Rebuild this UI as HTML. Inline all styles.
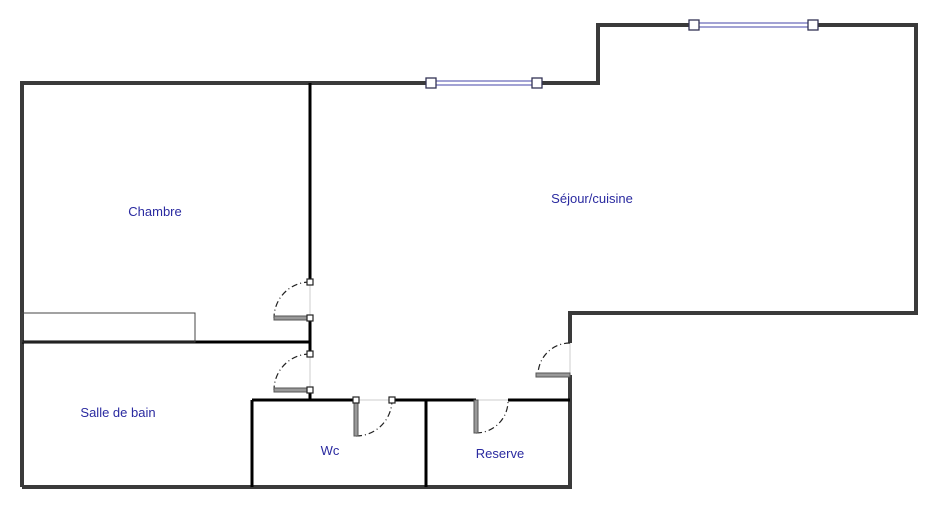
<!DOCTYPE html>
<html><head><meta charset="utf-8"><style>
html,body{margin:0;padding:0;background:#fff}
svg{display:block}
text{font-family:"Liberation Sans",sans-serif;font-size:13px;fill:#2a2aa0;text-anchor:middle}
</style></head><body>
<svg width="944" height="506" viewBox="0 0 944 506" xmlns="http://www.w3.org/2000/svg">
<path d="M22,487 L22,83 L598,83 L598,25 L916,25 L916,313 L570,313 L570,343 M570,375 L570,487 L22,487" fill="none" stroke="#3a3a3a" stroke-width="4" stroke-linejoin="miter"/>
<g>
<rect x="431" y="80" width="106" height="6" fill="#fff"/>
<line x1="431" y1="81" x2="537" y2="81" stroke="#4444aa" stroke-width="1"/>
<line x1="431" y1="85" x2="537" y2="85" stroke="#4444aa" stroke-width="1"/>
<rect x="426" y="78" width="10" height="10" fill="#fff" stroke="#333355" stroke-width="1.3"/>
<rect x="532" y="78" width="10" height="10" fill="#fff" stroke="#333355" stroke-width="1.3"/>
<rect x="694" y="22" width="119" height="6" fill="#fff"/>
<line x1="694" y1="23" x2="813" y2="23" stroke="#4444aa" stroke-width="1"/>
<line x1="694" y1="27" x2="813" y2="27" stroke="#4444aa" stroke-width="1"/>
<rect x="689" y="20" width="10" height="10" fill="#fff" stroke="#333355" stroke-width="1.3"/>
<rect x="808" y="20" width="10" height="10" fill="#fff" stroke="#333355" stroke-width="1.3"/>
</g>
<g stroke="#000" stroke-width="3" fill="none">
<line x1="310" y1="83" x2="310" y2="282"/>
<line x1="310" y1="318" x2="310" y2="354"/>
<line x1="310" y1="390" x2="310" y2="400"/>
<line x1="22" y1="342" x2="310" y2="342"/>
<line x1="252" y1="400" x2="356" y2="400"/>
<line x1="392" y1="400" x2="476" y2="400"/>
<line x1="508" y1="400" x2="570" y2="400"/>
<line x1="252" y1="400" x2="252" y2="487"/>
<line x1="426" y1="400" x2="426" y2="487"/>
</g>
<rect x="22" y="313" width="173" height="29" fill="none" stroke="#444" stroke-width="1"/>
<g stroke="#ccc" stroke-width="1">
<line x1="310" y1="282" x2="310" y2="318"/>
<line x1="310" y1="354" x2="310" y2="390"/>
<line x1="356" y1="400" x2="392" y2="400"/>
<line x1="476" y1="400" x2="508" y2="400"/>
<line x1="570" y1="343" x2="570" y2="375"/>
</g>
<g stroke="#222" stroke-width="1.2" fill="none" stroke-dasharray="6,3,1,3">
<path d="M310,282 A36,36 0 0 0 274,318"/>
<path d="M310,354 A36,36 0 0 0 274,390"/>
<path d="M356,436 A36,36 0 0 0 392,400"/>
<path d="M476,433 A32,32 0 0 0 508,400"/>
<path d="M570,343 A32,32 0 0 0 538,375"/>
</g>
<g stroke="#555" stroke-width="1">
<rect x="274" y="316" width="36" height="4" fill="#999"/>
<rect x="274" y="388" width="36" height="4" fill="#999"/>
<rect x="354" y="400" width="4" height="36" fill="#999"/>
<rect x="474" y="400" width="4" height="33" fill="#999"/>
<rect x="536" y="373" width="34" height="4" fill="#999"/>
</g>
<g fill="#fff" stroke="#222" stroke-width="1.2">
<rect x="307" y="279" width="6" height="6"/>
<rect x="307" y="315" width="6" height="6"/>
<rect x="307" y="351" width="6" height="6"/>
<rect x="307" y="387" width="6" height="6"/>
<rect x="353" y="397" width="6" height="6"/>
<rect x="389" y="397" width="6" height="6"/>
</g>
<text x="155" y="216">Chambre</text>
<text x="592" y="203">Séjour/cuisine</text>
<text x="118" y="417">Salle de bain</text>
<text x="330" y="455">Wc</text>
<text x="500" y="458">Reserve</text>
</svg>
</body></html>
